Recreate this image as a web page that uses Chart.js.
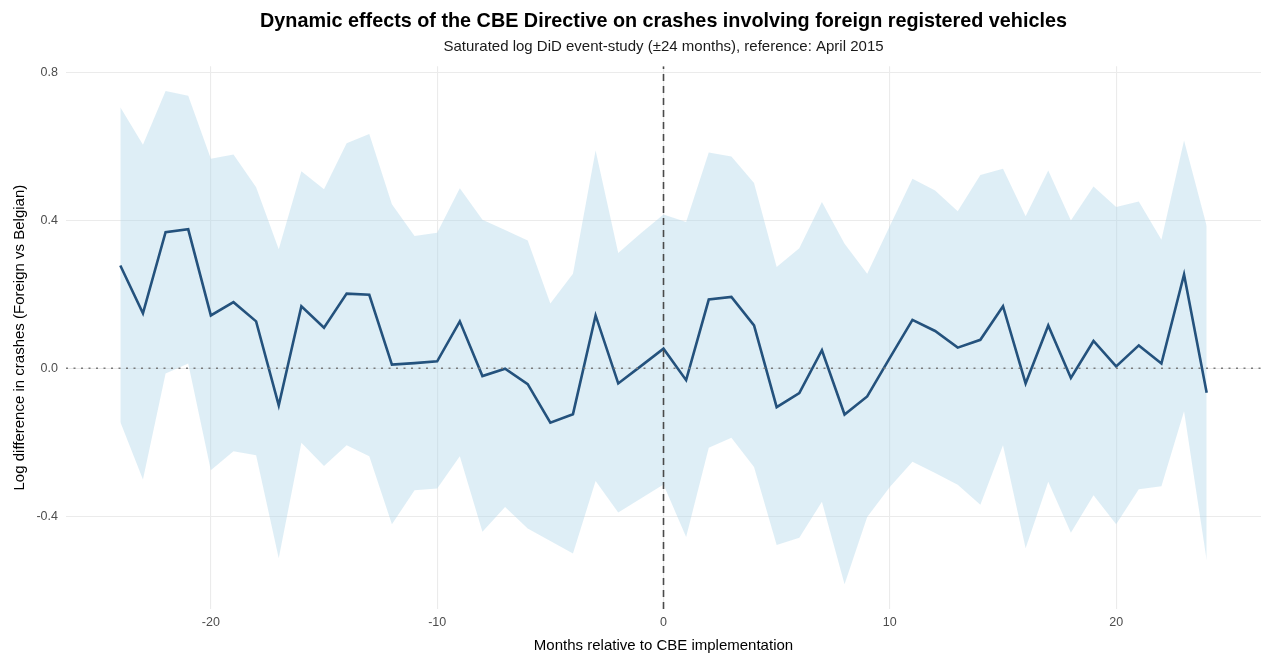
<!DOCTYPE html>
<html>
<head>
<meta charset="utf-8">
<script src="https://cdn.jsdelivr.net/npm/chart.js@4.4.1/dist/chart.umd.min.js"></script>
<style>
  html, body { margin: 0; padding: 0; background: #ffffff; }
  #wrap { width: 1261px; height: 655px; }
</style>
</head>
<body>
<div id="wrap"><canvas id="c" width="1261" height="655"></canvas></div>
<script>
const months = [-24,-23,-22,-21,-20,-19,-18,-17,-16,-15,-14,-13,-12,-11,-10,-9,-8,-7,-6,-5,-4,-3,-2,-1,0,1,2,3,4,5,6,7,8,9,10,11,12,13,14,15,16,17,18,19,20,21,22,23,24];
const estimate = [0.278,0.149,0.368,0.376,0.143,0.179,0.127,-0.100,0.168,0.110,0.202,0.199,0.010,0.014,0.019,0.127,-0.021,-0.001,-0.043,-0.147,-0.124,0.143,-0.041,0.006,0.053,-0.032,0.186,0.193,0.116,-0.105,-0.067,0.049,-0.125,-0.076,0.028,0.131,0.101,0.056,0.077,0.168,-0.041,0.116,-0.026,0.074,0.005,0.062,0.013,0.254,-0.066];
const upper = [0.706,0.605,0.750,0.737,0.567,0.578,0.490,0.322,0.533,0.484,0.609,0.634,0.444,0.358,0.367,0.487,0.402,0.374,0.346,0.175,0.256,0.589,0.312,0.365,0.416,0.396,0.584,0.573,0.501,0.274,0.325,0.450,0.337,0.256,0.385,0.513,0.481,0.425,0.523,0.540,0.411,0.535,0.400,0.492,0.436,0.451,0.348,0.616,0.385];
const lower = [-0.145,-0.301,-0.014,0.013,-0.276,-0.224,-0.235,-0.514,-0.201,-0.264,-0.208,-0.238,-0.422,-0.330,-0.325,-0.238,-0.442,-0.375,-0.433,-0.467,-0.501,-0.305,-0.390,-0.352,-0.314,-0.456,-0.215,-0.188,-0.267,-0.478,-0.458,-0.361,-0.584,-0.402,-0.321,-0.253,-0.283,-0.315,-0.369,-0.208,-0.487,-0.307,-0.445,-0.343,-0.422,-0.327,-0.319,-0.116,-0.519];
const xTicks = [-20,-10,0,10,20];
const yTicks = [-0.4,0.0,0.4,0.8];
const xLimits = [-26.4, 26.4];
const yLimits = [-0.651, 0.817];
const eventMonth = 0;
const refValue = 0;

const titleText = 'Dynamic effects of the CBE Directive on crashes involving foreign registered vehicles';
const subtitleText = 'Saturated log DiD event-study (\u00B124 months), reference: April 2015';
const xTitle = 'Months relative to CBE implementation';
const yTitle = 'Log difference in crashes (Foreign vs Belgian)';

const FONT = "'Liberation Sans', Arial, Helvetica, sans-serif";
const pts = arr => months.map((m, i) => ({x: m, y: arr[i]}));

new Chart(document.getElementById('c'), {
  type: 'line',
  data: {
    datasets: [
      { label: 'event', data: [{x: eventMonth, y: yLimits[0]}, {x: eventMonth, y: yLimits[1]}],
        borderColor: '#4a4a4a', borderWidth: 1.6, borderDash: [7, 5], pointRadius: 0, fill: false },
      { label: 'ref', data: [{x: xLimits[0], y: refValue}, {x: xLimits[1], y: refValue}],
        borderColor: '#7a7a7a', borderWidth: 1.6, borderDash: [2, 5.5], pointRadius: 0, fill: false },
      { label: 'estimate', data: pts(estimate), borderColor: '#24527d', borderWidth: 2.6,
        pointRadius: 0, fill: false, tension: 0, borderJoinStyle: 'miter' },
      { label: 'upper', data: pts(upper), borderWidth: 0, borderColor: 'rgba(0,0,0,0)',
        backgroundColor: 'rgba(173,212,232,0.4)', pointRadius: 0, fill: '+1', tension: 0 },
      { label: 'lower', data: pts(lower), borderWidth: 0, borderColor: 'rgba(0,0,0,0)',
        pointRadius: 0, fill: false, tension: 0 }
    ]
  },
  options: {
    responsive: false,
    animation: false,
    events: [],
    layout: { padding: { left: 0, right: 0, top: 0, bottom: 0 } },
    plugins: {
      legend: { display: false },
      tooltip: { enabled: false },
      title: { display: true, text: titleText, color: '#000000', fullSize: false,
        font: { family: FONT, size: 19.8, weight: 'bold', lineHeight: 1.2 },
        padding: { top: 10, bottom: 4 } },
      subtitle: { display: true, text: subtitleText, color: '#1a1a1a', fullSize: false,
        font: { family: FONT, size: 15, lineHeight: 1.2 },
        padding: { top: 0, bottom: 10.5 } }
    },
    scales: {
      x: {
        type: 'linear', min: xLimits[0], max: xLimits[1],
        afterBuildTicks: s => { s.ticks = xTicks.map(v => ({value: v})); },
        afterFit: s => { s.height = 46; },
        grid: { color: '#ebebeb', lineWidth: 1.1, drawTicks: false },
        border: { display: false },
        ticks: { color: '#4d4d4d', padding: 6, font: { family: FONT, size: 12.5 },
          callback: v => String(v), maxRotation: 0 },
        title: { display: true, text: xTitle, color: '#000000',
          font: { family: FONT, size: 15, lineHeight: 1.2 }, padding: { top: 0, bottom: 0 } }
      },
      y: {
        type: 'linear', min: yLimits[0], max: yLimits[1],
        afterBuildTicks: s => { s.ticks = yTicks.map(v => ({value: v})); },
        afterFit: s => { s.width = 66; },
        grid: { color: '#ebebeb', lineWidth: 1.1, drawTicks: false },
        border: { display: false },
        ticks: { color: '#4d4d4d', padding: 8, font: { family: FONT, size: 12.5 },
          callback: v => v.toFixed(1) },
        title: { display: true, text: yTitle, color: '#000000',
          font: { family: FONT, size: 15, lineHeight: 1.2 }, padding: { top: 11, bottom: 0 } }
      }
    }
  }
});
</script>
</body>
</html>
